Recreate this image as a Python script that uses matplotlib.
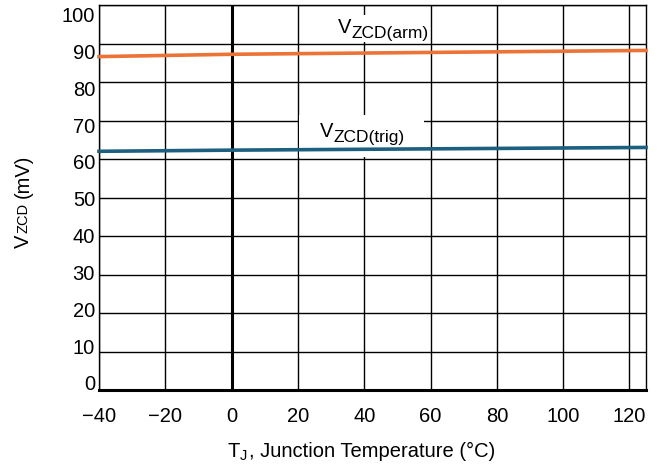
import matplotlib
matplotlib.use("Agg")
import matplotlib.pyplot as plt
import matplotlib.transforms as mtransforms

plt.rcParams['font.family'] = ['Liberation Sans', 'DejaVu Sans']

temps = [-40, 0, 125]
v_arm = [86.6, 87.2, 88.2]
v_trig = [62.0, 62.3, 63.0]
xticks = [-40, -20, 0, 20, 40, 60, 80, 100, 120]
xticklabels = ['\u221240', '\u221220', '0', '20', '40', '60', '80', '100', '120']
yticks = list(range(0, 101, 10))
yticklabels = [str(v) for v in yticks]

FS = 14.5
SUB = 12.5
AXSUB = 10.5

fig = plt.figure(figsize=(6.6, 4.68), dpi=100)
ax = fig.add_axes([99/660, 1-390/468, (646-99)/660, (390-5)/468])
ax.set_xlim(-40, 125)
ax.set_ylim(0, 100)

ax.set_xticks(xticks)
ax.set_xticklabels(xticklabels)
ax.set_yticks(yticks)
ax.set_yticklabels([])
ax.tick_params(length=0, labelsize=FS, colors='black')
ax.tick_params(axis='x', pad=12)
ax.grid(True, color='black', linewidth=1.0)
ax.set_axisbelow(True)
for s in ax.spines.values():
    s.set_linewidth(1.0)
ax.spines['bottom'].set_linewidth(2.2)
ax.axvline(0, color='black', linewidth=2.2, zorder=1)

# y tick labels (in the reference they sit on a slightly tighter spacing than the grid)
ytrans = mtransforms.blended_transform_factory(ax.transAxes, ax.transData)
for v, lab in zip(yticks, yticklabels):
    off = (-7 + v * 0.165) / 100.0  # pixels -> inches at dpi 100
    tr = ytrans + mtransforms.ScaledTranslation(-4/100, -off, fig.dpi_scale_trans)
    ax.text(0, v, lab, transform=tr, fontsize=FS, ha='right', va='center_baseline',
            clip_on=False)

# white patches that cut the grid behind the curve labels
ax.axvspan(20.2, 58, ymin=0.605, ymax=0.715, color='white', zorder=1.5, lw=0)
ax.axvspan(31, 59.5, ymin=0.905, ymax=0.975, color='white', zorder=1.5, lw=0)

ax.plot(temps, v_arm, color='#EB7336', linewidth=2.6, zorder=3, clip_on=False)
ax.plot(temps, v_trig, color='#1C5F80', linewidth=2.6, zorder=3, clip_on=False)


def sub_label(x, y, main, sub, fs=FS, sfs=SUB):
    ax.annotate(main, (x, y), xytext=(0, 0), textcoords='offset points',
                fontsize=fs, ha='left', va='baseline', zorder=4)
    ax.annotate(sub, (x, y), xytext=(fs * 0.68, -fs * 0.22), textcoords='offset points',
                fontsize=sfs, ha='left', va='baseline', zorder=4)


sub_label(32.0, 92.6, 'V', 'ZCD(arm)')
sub_label(26.5, 65.6, 'V', 'ZCD(trig)')

# axis labels built from pieces
fig.text(228/660, 1-457/468, 'T', fontsize=FS, ha='left', va='baseline')
fig.text(240/660, 1-460/468, 'J', fontsize=AXSUB, ha='left', va='baseline')
fig.text(249/660, 1-457/468, ', Junction Temperature (°C)', fontsize=FS, ha='left', va='baseline')

fig.text(14/660, 1-248/468, 'V', fontsize=FS, rotation=90, ha='left', va='bottom')
fig.text(17/660, 1-233/468, 'ZCD', fontsize=AXSUB, rotation=90, ha='left', va='bottom')
fig.text(14/660, 1-198/468, '(mV)', fontsize=FS, rotation=90, ha='left', va='bottom')

fig.savefig('out.png', dpi=100)
